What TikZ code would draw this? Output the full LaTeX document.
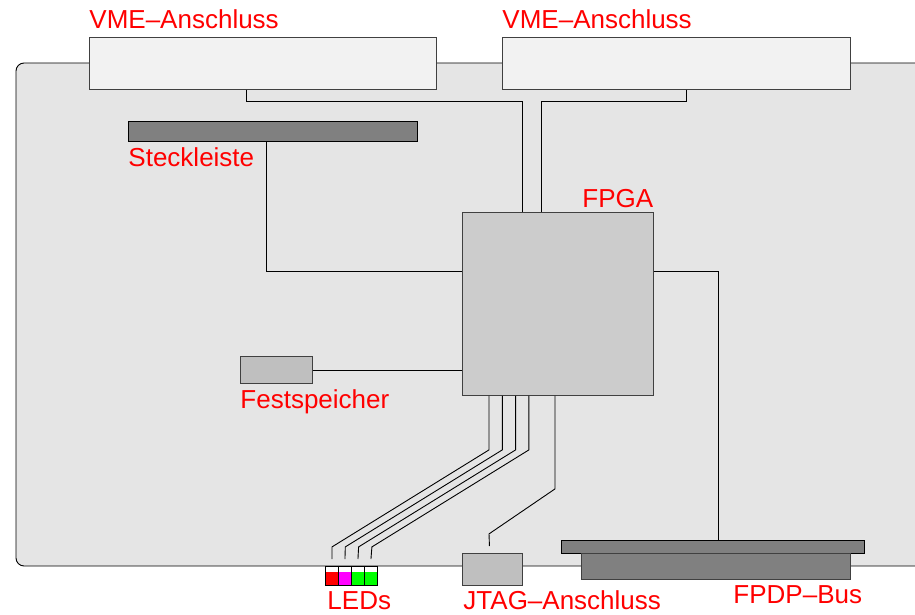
\documentclass[tikz,border=0pt]{standalone}
\usepackage{fontspec}
\setmainfont{Liberation Sans}
\definecolor{ledred}{RGB}{255,0,0}
\definecolor{ledmagenta}{RGB}{255,0,255}
\definecolor{ledgreen}{RGB}{0,255,0}

\begin{document}
\begin{tikzpicture}[x=1pt, y=-1pt, line width=0.9pt,
    box/.style={draw=black!75, inner sep=0, anchor=north west},
    lbl/.style={text=red, font=\fontsize{26}{30}\selectfont, anchor=base west, inner sep=0},
    led/.style={box, draw=black, fill=white, minimum width=13pt, minimum height=19pt,
      path picture={\fill[#1] (path picture bounding box.south west)
        rectangle ([yshift=13pt]path picture bounding box.south east);}}]
  \useasboundingbox (0, 0) rectangle (915, 615);

  % board
  \filldraw[fill=black!10, draw=black, rounded corners=8pt]
    (915, 63) -- (16, 63) -- (16, 566) -- (915, 566);

  \node[box, fill=black!5, minimum width=347pt, minimum height=52pt] (vmeA) at (89, 37) {};
  \node[box, fill=black!5, minimum width=348pt, minimum height=52pt] (vmeB) at (502, 37) {};
  \node[box, draw=black, fill=black!50, minimum width=289pt, minimum height=20pt] (steck) at (128, 121) {};
  \node[box, fill=black!20, minimum width=191pt, minimum height=183pt] (fpga) at (462, 212) {};
  \node[box, fill=black!25, minimum width=72pt, minimum height=27pt] (rom) at (240, 356) {};
  \node[box, fill=black!25, minimum width=60pt, minimum height=32pt] (jtag) at (462, 553) {};
  \node[box, draw=black, fill=black!50, minimum width=303pt, minimum height=13pt] (fpdp) at (561, 540) {};
  \node[box, fill=black!50, minimum width=269pt, minimum height=26pt] (fpdpb) at (581, 553) {};
  \foreach \c [count=\i from 0] in {ledred, ledmagenta, ledgreen, ledgreen}
    \node[led=\c] (led\i) at (325+13*\i, 566) {};

  \node[lbl] at (89, 29) {VME–Anschluss};
  \node[lbl] at (502, 29) {VME–Anschluss};
  \node[lbl] at (128, 166) {Steckleiste};
  \node[lbl] at (582, 207) {FPGA};
  \node[lbl] at (240, 408) {Festspeicher};
  \node[lbl] at (327, 609) {LEDs};
  \node[lbl] at (463, 609) {JTAG–Anschluss};
  \node[lbl] at (733, 603) {FPDP–Bus};

  \coordinate (vA) at (246, 101);
  \coordinate (vB) at (686, 101);
  \coordinate (fA) at (522, 101);
  \coordinate (fB) at (541, 101);
  \coordinate (s) at (266, 271);
  \coordinate (p) at (718, 271);

  \draw (vA |- vmeA.south) -- (vA) -- (fA) -- (fA |- fpga.north);
  \draw (vB |- vmeB.south) -- (vB) -- (fB) -- (fB |- fpga.north);
  \draw (s |- steck.south) -- (s) -- (s -| fpga.west);
  \draw (p -| fpga.east) -- (p) -- (p |- fpdp.north);
  \draw (rom.east) -- (rom.east -| fpga.west);

  \foreach \i in {0,...,3}
    \draw ([xshift=27pt+13.3pt*\i]fpga.south west) -- ++(0, 54) -- ++(-157, 97)
      -- ([yshift=7pt]led\i.north);
  \draw ([xshift=93pt]fpga.south west) -- ++(0, 93) -- ++(-66, 45)
    -- ([xshift=-3pt, yshift=7pt]jtag.north);
\end{tikzpicture}
\end{document}
